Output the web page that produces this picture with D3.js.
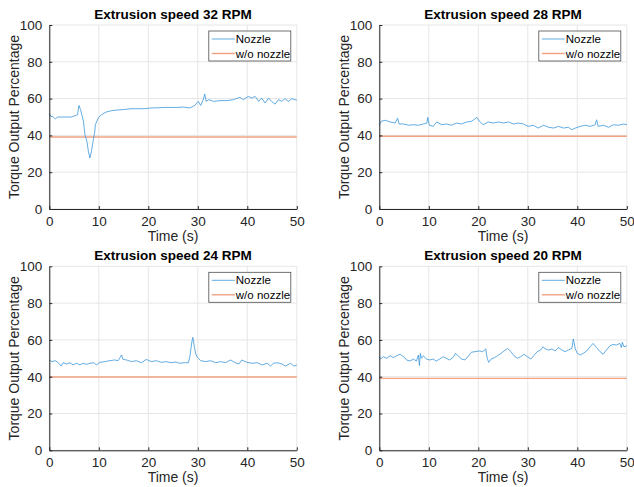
<!DOCTYPE html>
<html>
<head>
<meta charset="utf-8">
<script src="https://cdn.jsdelivr.net/npm/d3@7"></script>
<style>
  body { margin: 0; background: #fff; }
  svg { display: block; font-family: "Liberation Sans", Arial, sans-serif; }
</style>
</head>
<body>
<svg id="chart" width="634" height="487"></svg>
<script>
// time (s) / torque (%)
var t32 = [0, 0.3, 0.7, 1.2, 1.7, 2.5, 3.5, 4.5, 5.7, 6.0, 6.3, 6.6, 6.9, 7.2, 7.6, 7.9, 8.2, 8.5, 8.9, 9.2, 9.3, 9.9, 10.5, 11.5, 12.5, 13.8, 15.2, 16.5, 17.8, 19.2, 20.5, 21.9, 23.2, 24.4, 25.7, 27.1, 28.4, 29.4, 30.1, 30.6, 31.1, 31.4, 31.7, 32.2, 33.2, 34.5, 35.9, 37.2, 38.5, 39.2, 40.2, 40.9, 41.6, 42.3, 42.9, 43.6, 44.3, 44.9, 45.6, 46.3, 47.0, 47.6, 48.3, 49.0, 49.6, 50];
var v32 = [52.1, 50.3, 50.3, 48.9, 50.0, 50.0, 50.0, 50.0, 51.2, 56.3, 54.0, 51.0, 47.6, 40.4, 36.8, 31.3, 27.7, 31.3, 37.7, 42.2, 45.8, 49.5, 51.2, 52.7, 53.4, 53.8, 54.1, 54.5, 54.5, 54.5, 54.9, 55.0, 55.2, 55.2, 55.2, 55.4, 54.9, 56.3, 58.5, 56.3, 59.4, 62.5, 58.5, 59.4, 58.5, 58.9, 58.9, 59.4, 60.7, 59.4, 61.2, 60.3, 61.2, 58.5, 60.3, 57.6, 60.3, 58.5, 57.0, 59.4, 58.5, 60.0, 58.5, 60.0, 59.4, 59.2];
var base32 = 39.1;

var t28 = [0, 0.4, 1.2, 2.2, 3.2, 3.7, 4.0, 4.9, 5.9, 6.9, 7.9, 8.9, 9.6, 9.8, 10.1, 10.9, 11.6, 12.6, 13.6, 14.6, 15.6, 16.6, 17.7, 18.7, 19.7, 20.2, 21.0, 22.0, 23.0, 24.1, 25.1, 26.1, 27.1, 28.1, 29.1, 30.1, 31.1, 32.1, 33.2, 34.2, 35.2, 36.2, 37.2, 38.2, 38.9, 39.6, 40.6, 41.6, 42.6, 43.6, 43.9, 44.2, 45.3, 46.3, 47.3, 48.3, 49.3, 50];
var v28 = [45.5, 47.7, 48.2, 47.3, 46.7, 49.4, 46.2, 46.2, 45.5, 45.8, 45.5, 46.2, 46.7, 49.8, 45.5, 44.9, 47.3, 45.8, 46.2, 45.5, 46.7, 46.2, 47.3, 47.7, 49.8, 47.7, 45.8, 47.3, 46.7, 47.3, 46.7, 47.3, 46.2, 46.7, 46.2, 44.9, 45.5, 44.0, 45.5, 44.4, 44.0, 44.9, 44.0, 44.4, 43.1, 44.0, 44.9, 45.5, 44.9, 45.8, 48.5, 44.9, 45.5, 44.4, 45.8, 45.5, 46.2, 45.8];
var base28 = 39.5;

var t24 = [0, 0.5, 1.2, 1.8, 2.4, 2.8, 3.5, 4.2, 4.8, 5.5, 6.2, 6.8, 7.5, 8.2, 9.0, 9.5, 10.2, 11.2, 12.2, 13.2, 13.9, 14.6, 14.9, 15.6, 16.6, 17.6, 18.6, 19.6, 20.6, 21.6, 22.6, 23.6, 24.6, 25.6, 26.3, 27.3, 28.1, 28.4, 28.8, 29.0, 29.3, 29.6, 29.9, 30.6, 31.6, 32.6, 33.6, 34.6, 35.6, 36.6, 37.6, 38.3, 38.9, 39.9, 41.0, 42.0, 43.0, 44.0, 44.7, 45.3, 46.0, 47.0, 47.7, 48.7, 49.4, 50];
var v24 = [49.1, 48.2, 48.7, 47.6, 45.8, 47.6, 46.9, 47.6, 46.4, 47.3, 46.4, 47.3, 46.7, 47.3, 47.6, 46.4, 47.8, 48.2, 48.7, 49.1, 48.7, 51.8, 49.4, 49.1, 48.2, 48.7, 47.6, 49.4, 48.2, 48.7, 47.8, 48.2, 47.6, 48.0, 47.3, 47.6, 47.6, 50.9, 59.0, 61.4, 56.3, 52.3, 50.6, 48.7, 48.2, 48.7, 47.6, 48.2, 47.6, 49.1, 47.6, 46.9, 49.1, 47.8, 47.3, 47.6, 46.4, 47.3, 45.8, 47.3, 47.6, 46.9, 45.8, 47.3, 45.8, 46.3];
var base24 = 39.8;

var t20 = [0, 0.3, 0.8, 1.5, 2.2, 2.8, 3.5, 4.2, 4.9, 5.5, 6.2, 6.9, 7.5, 7.9, 8.1, 8.3, 8.5, 8.9, 9.5, 10.2, 10.9, 11.5, 12.2, 12.9, 13.5, 14.2, 14.9, 15.4, 15.9, 16.6, 17.3, 17.9, 18.6, 19.3, 20.3, 20.9, 21.5, 21.8, 22.1, 22.6, 23.3, 23.9, 24.6, 25.2, 25.9, 26.6, 27.2, 27.9, 28.6, 29.2, 29.9, 30.6, 31.2, 31.9, 32.6, 33.1, 33.5, 34.2, 34.9, 35.5, 36.2, 36.9, 37.5, 38.2, 38.9, 39.2, 39.6, 40.0, 40.6, 41.2, 41.9, 42.6, 43.2, 43.9, 44.6, 45.2, 45.9, 46.6, 47.2, 47.9, 48.6, 48.9, 49.1, 49.4, 50];
var v20 = [50.9, 49.6, 50.9, 50.0, 51.4, 50.4, 51.4, 52.2, 50.9, 49.1, 48.5, 49.6, 48.5, 51.8, 46.0, 52.7, 50.0, 51.4, 49.6, 49.1, 49.6, 48.5, 49.6, 50.9, 50.0, 49.1, 50.4, 52.7, 51.4, 49.6, 49.1, 50.9, 53.3, 53.6, 54.0, 53.6, 55.1, 50.0, 47.8, 49.6, 50.4, 51.4, 52.7, 54.0, 55.4, 53.6, 51.4, 50.0, 50.9, 52.2, 50.9, 49.6, 51.4, 53.6, 54.5, 56.3, 55.1, 54.5, 55.1, 54.0, 55.8, 54.5, 53.6, 54.5, 55.4, 60.5, 55.1, 52.7, 51.8, 52.7, 54.0, 56.3, 58.1, 55.8, 53.6, 52.2, 54.5, 56.8, 57.5, 57.2, 58.1, 55.8, 58.7, 56.3, 56.8];
var base20 = 39.1;

var titles = ["Extrusion speed 32 RPM", "Extrusion speed 28 RPM", "Extrusion speed 24 RPM", "Extrusion speed 20 RPM"];
var seriesNames = ["Nozzle", "w/o nozzle"];
var xTicks = [0, 10, 20, 30, 40, 50];
var yTicks = [0, 20, 40, 60, 80, 100];

var panels = [
    {title: titles[0], t: t32, v: v32, base: base32, left: 49.3, top: 25},
    {title: titles[1], t: t28, v: v28, base: base28, left: 379.3, top: 25},
    {title: titles[2], t: t24, v: v24, base: base24, left: 49.3, top: 266.3},
    {title: titles[3], t: t20, v: v20, base: base20, left: 379.3, top: 266.3}
];

var width = 247.5, height = 184;
var axisColor = "#262626";
var blue = "#3b97da", orange = "#f2a283";

var svg = d3.select("#chart");

panels.forEach(function (p) {
    var g = svg.append("g")
        .attr("transform", "translate(" + p.left + "," + p.top + ")");

    var x = d3.scaleLinear().domain([0, 50]).range([0, width]);
    var y = d3.scaleLinear().domain([0, 100]).range([height, 0]);

    // grid
    g.append("g").selectAll("line").data(xTicks).enter().append("line")
        .attr("x1", function (d) { return x(d); })
        .attr("x2", function (d) { return x(d); })
        .attr("y1", 0).attr("y2", height)
        .attr("stroke", "#e6e6e6").attr("stroke-width", 1);
    g.append("g").selectAll("line").data(yTicks).enter().append("line")
        .attr("y1", function (d) { return y(d); })
        .attr("y2", function (d) { return y(d); })
        .attr("x1", 0).attr("x2", width)
        .attr("stroke", "#e6e6e6").attr("stroke-width", 1);

    // lines
    var line = d3.line()
        .x(function (d, i) { return x(p.t[i]); })
        .y(function (d) { return y(d); });

    g.append("path")
        .datum([p.base, p.base])
        .attr("fill", "none")
        .attr("stroke", orange)
        .attr("stroke-width", 1.4)
        .attr("d", d3.line()
            .x(function (d, i) { return x(i * 50); })
            .y(function (d) { return y(d); }));

    g.append("path")
        .datum(p.v)
        .attr("fill", "none")
        .attr("stroke", blue)
        .attr("stroke-width", 0.8)
        .attr("d", line);

    // axes, ticks inside
    var xAxis = g.append("g")
        .attr("transform", "translate(0," + height + ")")
        .call(d3.axisBottom(x).tickValues(xTicks).tickSizeInner(-3).tickSizeOuter(0).tickPadding(7));
    var yAxis = g.append("g")
        .call(d3.axisLeft(y).tickValues(yTicks).tickSizeInner(-3).tickSizeOuter(0).tickPadding(7));

    [xAxis, yAxis].forEach(function (a) {
        a.select(".domain").attr("stroke", axisColor);
        a.selectAll(".tick line").attr("stroke", axisColor);
        a.selectAll("text")
            .attr("fill", axisColor)
            .attr("font-size", 13.5)
            .attr("font-family", "Liberation Sans, Arial, sans-serif");
    });

    // title
    g.append("text")
        .attr("x", width / 2)
        .attr("y", -6)
        .attr("text-anchor", "middle")
        .attr("font-size", 13.5)
        .attr("font-weight", "bold")
        .attr("fill", "#000")
        .text(p.title);

    // axis labels
    g.append("text")
        .attr("x", width / 2)
        .attr("y", height + 32)
        .attr("text-anchor", "middle")
        .attr("font-size", 14)
        .attr("fill", axisColor)
        .text("Time (s)");

    g.append("text")
        .attr("transform", "translate(-30," + (height / 2) + ") rotate(-90)")
        .attr("text-anchor", "middle")
        .attr("font-size", 14)
        .attr("fill", axisColor)
        .text("Torque Output Percentage");

    // legend
    var lg = g.append("g")
        .attr("transform", "translate(" + (width - 88) + ",6)");
    lg.append("rect")
        .attr("width", 82).attr("height", 30)
        .attr("fill", "#fff")
        .attr("stroke", "#4d4d4d").attr("stroke-width", 0.8);
    [blue, orange].forEach(function (c, i) {
        var yy = 8 + i * 14.5;
        lg.append("line")
            .attr("x1", 3).attr("x2", 26)
            .attr("y1", yy).attr("y2", yy)
            .attr("stroke", c)
            .attr("stroke-width", i === 0 ? 0.8 : 1.4);
        lg.append("text")
            .attr("x", 27).attr("y", yy + 4)
            .attr("font-size", 11.5)
            .attr("fill", "#000")
            .text(seriesNames[i]);
    });
});
</script>
</body>
</html>
